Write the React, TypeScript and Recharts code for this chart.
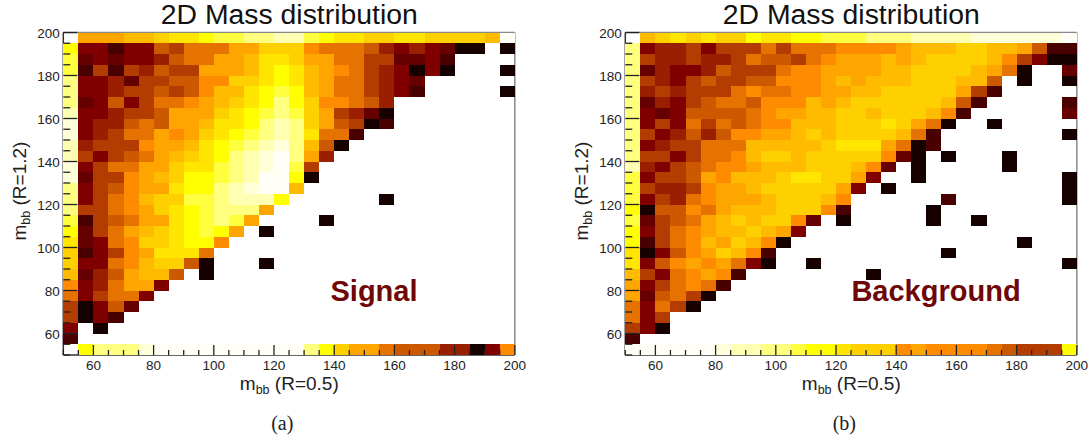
import { ScatterChart, Scatter, XAxis, YAxis, ReferenceLine } from 'recharts';

// ROOT dark body radiator palette, index = colour level (0 = empty bin)
const palette = [
  '#ffffff', '#170000', '#480000', '#660000', '#800000', '#9a1f00', '#b33c00', '#cc5800', '#e67300', '#ff8c00',
  '#ffa500', '#ffbb00', '#ffd000', '#ffe500', '#ffff00', '#ffff40', '#ffff80', '#ffffb3', '#ffffd9', '#fffff8',
];

const xTicks = [50, 55, 60, 65, 70, 75, 80, 85, 90, 95, 100, 105, 110, 115, 120, 125, 130, 135, 140, 145, 150, 155, 160, 165, 170, 175, 180, 185, 190, 195, 200];
const yTicks = xTicks;

// one row per 5 GeV bin of m_bb (R=1.2), first row is 50-55, missing trailing bins are empty
const signalRows: number[][] = [
  [0, 14, 16, 16, 16, 18, 19, 19, 19, 19, 19, 19, 19, 19, 19, 19, 16, 14, 12, 10, 10, 8, 7, 7, 7, 5, 5, 1, 4, 9],
  [2],
  [4, 0, 1],
  [6, 1, 4, 2],
  [6, 1, 4, 7, 3],
  [8, 4, 6, 8, 8, 4],
  [9, 4, 5, 8, 10, 10, 4],
  [11, 3, 5, 7, 10, 11, 11, 7, 0, 1],
  [12, 4, 4, 8, 9, 11, 12, 12, 7, 1, 0, 0, 0, 1],
  [12, 2, 4, 6, 9, 10, 13, 13, 13, 8],
  [13, 3, 4, 8, 9, 12, 12, 13, 14, 14, 9],
  [14, 3, 6, 8, 10, 11, 12, 13, 14, 15, 14, 10, 0, 1],
  [15, 2, 6, 7, 8, 10, 10, 13, 14, 15, 16, 15, 10, 0, 0, 0, 0, 1],
  [16, 6, 6, 8, 9, 10, 12, 13, 14, 15, 16, 16, 16, 10],
  [16, 4, 6, 8, 9, 11, 12, 12, 15, 15, 16, 17, 17, 17, 14, 0, 0, 0, 0, 0, 0, 1],
  [16, 4, 6, 7, 9, 10, 10, 13, 14, 14, 16, 17, 18, 19, 19, 11],
  [18, 3, 6, 6, 9, 10, 11, 12, 14, 14, 15, 16, 17, 19, 19, 14, 1],
  [18, 4, 6, 8, 8, 10, 10, 12, 13, 13, 15, 16, 17, 18, 19, 15, 6],
  [17, 6, 4, 6, 7, 8, 10, 11, 12, 13, 14, 16, 17, 18, 19, 16, 10, 5],
  [17, 5, 6, 6, 6, 9, 10, 10, 11, 13, 14, 15, 16, 17, 18, 16, 11, 7, 1],
  [18, 4, 5, 6, 8, 8, 10, 9, 10, 12, 13, 14, 15, 16, 17, 16, 13, 8, 8, 2],
  [18, 4, 5, 5, 7, 8, 7, 10, 10, 11, 13, 13, 14, 16, 17, 16, 12, 10, 7, 6, 1, 2],
  [17, 4, 4, 5, 6, 6, 7, 10, 10, 10, 12, 13, 14, 15, 16, 15, 12, 10, 6, 5, 3, 1],
  [16, 3, 4, 7, 4, 6, 8, 8, 9, 10, 11, 12, 13, 14, 16, 14, 12, 9, 9, 8, 7, 5],
  [16, 4, 4, 5, 6, 6, 7, 6, 7, 9, 11, 11, 13, 14, 15, 14, 11, 10, 8, 8, 6, 5, 4, 2, 0, 0, 0, 0, 0, 1],
  [16, 4, 4, 5, 3, 6, 6, 7, 7, 9, 9, 12, 12, 13, 14, 13, 11, 10, 8, 8, 6, 5, 4, 3],
  [15, 2, 6, 2, 6, 5, 7, 6, 6, 10, 10, 10, 11, 13, 14, 13, 11, 10, 9, 8, 6, 5, 4, 1, 4, 1, 0, 0, 0, 1],
  [15, 3, 4, 3, 4, 4, 5, 7, 8, 8, 10, 10, 11, 13, 13, 12, 10, 10, 8, 8, 6, 6, 3, 3, 4, 2],
  [14, 4, 4, 2, 4, 4, 7, 6, 8, 8, 8, 10, 10, 12, 12, 12, 9, 8, 8, 8, 7, 5, 4, 5, 4, 3, 1, 1, 0, 1],
  [0, 10, 10, 10, 11, 11, 12, 13, 13, 14, 15, 15, 16, 16, 17, 17, 15, 14, 13, 13, 12, 12, 13, 13, 12, 12, 12, 12, 11, 19],
];

const backgroundRows: number[][] = [
  [19, 19, 19, 19, 19, 19, 18, 17, 17, 16, 16, 15, 14, 14, 13, 12, 12, 12, 9, 10, 9, 9, 9, 9, 8, 7, 6, 6, 6, 14],
  [2],
  [6, 4, 1],
  [8, 4, 6],
  [8, 4, 8, 6, 1],
  [10, 3, 7, 8, 6, 1],
  [10, 4, 6, 8, 9, 8, 2],
  [11, 6, 4, 8, 9, 10, 9, 2, 0, 0, 0, 0, 0, 0, 0, 0, 1],
  [13, 4, 7, 9, 10, 9, 10, 8, 4, 1, 0, 0, 1, 0, 0, 0, 0, 0, 0, 0, 0, 0, 0, 0, 0, 0, 0, 0, 0, 1],
  [13, 1, 4, 7, 9, 10, 12, 11, 9, 2, 0, 0, 0, 0, 0, 0, 0, 0, 0, 0, 0, 1],
  [14, 2, 6, 8, 9, 11, 10, 12, 11, 9, 1, 0, 0, 0, 0, 0, 0, 0, 0, 0, 0, 0, 0, 0, 0, 0, 1],
  [14, 4, 6, 8, 9, 10, 11, 11, 12, 11, 10, 4],
  [15, 3, 6, 7, 8, 10, 11, 12, 11, 12, 12, 9, 3, 0, 1, 0, 0, 0, 0, 0, 1, 0, 0, 1],
  [14, 1, 7, 7, 9, 8, 10, 11, 11, 11, 12, 12, 12, 9, 2, 0, 0, 0, 0, 0, 1],
  [15, 4, 6, 5, 8, 9, 10, 10, 10, 11, 12, 12, 12, 11, 9, 0, 0, 0, 0, 0, 0, 2, 0, 0, 0, 0, 0, 0, 0, 1],
  [15, 6, 5, 5, 6, 9, 10, 10, 11, 12, 12, 12, 12, 12, 10, 4, 0, 1, 0, 0, 0, 0, 0, 0, 0, 0, 0, 0, 0, 1],
  [15, 4, 6, 6, 7, 10, 9, 11, 11, 11, 12, 13, 13, 12, 12, 10, 4, 0, 0, 1, 0, 0, 0, 0, 0, 0, 0, 0, 0, 1],
  [17, 5, 4, 6, 7, 8, 9, 9, 10, 11, 11, 11, 12, 12, 12, 11, 9, 3, 0, 1, 0, 0, 0, 0, 0, 1],
  [16, 6, 6, 4, 6, 8, 8, 9, 11, 12, 12, 11, 12, 12, 12, 12, 12, 9, 3, 1, 0, 1, 0, 0, 0, 1],
  [16, 4, 5, 6, 6, 8, 8, 8, 11, 11, 11, 11, 11, 12, 13, 13, 13, 10, 8, 1, 2],
  [16, 6, 4, 5, 7, 5, 7, 9, 9, 10, 10, 11, 12, 11, 12, 12, 12, 12, 11, 8, 2, 0, 0, 0, 0, 0, 0, 0, 0, 1],
  [16, 4, 6, 4, 8, 6, 8, 7, 8, 9, 9, 11, 11, 11, 12, 12, 12, 13, 12, 10, 8, 1, 0, 0, 1],
  [16, 4, 3, 4, 7, 7, 7, 7, 8, 9, 10, 10, 11, 11, 12, 12, 11, 12, 12, 12, 11, 9, 2, 0, 0, 0, 0, 0, 0, 3],
  [16, 3, 5, 4, 6, 7, 8, 8, 7, 9, 9, 9, 11, 10, 11, 12, 12, 12, 12, 12, 12, 11, 7, 2, 0, 0, 0, 0, 0, 2],
  [16, 5, 6, 5, 6, 6, 6, 8, 9, 8, 8, 9, 9, 10, 10, 11, 11, 12, 12, 12, 12, 12, 10, 6, 2],
  [16, 6, 5, 4, 6, 7, 6, 6, 7, 7, 9, 9, 9, 10, 11, 10, 11, 11, 11, 12, 12, 12, 11, 11, 7, 0, 1, 0, 0, 1],
  [16, 3, 5, 4, 4, 5, 7, 6, 6, 6, 8, 9, 9, 10, 10, 10, 10, 11, 11, 12, 12, 12, 12, 11, 10, 8, 1, 0, 0, 3],
  [16, 6, 5, 5, 6, 5, 5, 6, 8, 7, 7, 6, 8, 9, 10, 10, 10, 11, 10, 11, 12, 12, 12, 12, 11, 9, 6, 4, 1, 1],
  [16, 4, 5, 5, 6, 4, 6, 6, 6, 8, 6, 8, 8, 8, 9, 9, 9, 9, 10, 11, 11, 11, 12, 12, 11, 11, 10, 7, 2, 2],
  [0, 11, 12, 13, 12, 13, 12, 12, 14, 13, 13, 14, 14, 15, 15, 15, 16, 16, 16, 17, 17, 17, 17, 18, 18, 18, 18, 18, 18, 19],
];

const CHART_W = 530;
const CHART_H = 444;
const PLOT_LEFT = 63.3;
const PLOT_TOP = 32.5;
const PLOT_W = 451.5;
const PLOT_H = 322.5;
const CELL_W = PLOT_W / 30;
const CELL_H = PLOT_H / 30;
const INK = '#222';

const xTickMarks = xTicks.map((v) => ({ x: v, y: 50 }));
const yTickMarks = yTicks.map((v) => ({ x: 50, y: v }));

function toCells(rows: number[][]) {
  const cells: { x: number; y: number; level: number }[] = [];
  rows.forEach((row, r) =>
    row.forEach((level, c) => {
      if (level > 0) cells.push({ x: 52.5 + c * 5, y: 52.5 + r * 5, level });
    }),
  );
  return cells;
}

function BinRect(props: any) {
  const { cx, cy, payload } = props;
  return (
    <rect
      x={cx - CELL_W / 2}
      y={cy - CELL_H / 2}
      width={CELL_W}
      height={CELL_H}
      fill={palette[payload.level]}
      shapeRendering="crispEdges"
    />
  );
}

// tick marks sit inside the frame, on top of the bins, so they are series drawn after the bins
function XTickMark({ cx, cy, payload }: any) {
  const major = payload.x % 20 === 0;
  return <line x1={cx} x2={cx} y1={cy} y2={cy - (major ? 10 : 5)} stroke="#222" strokeWidth={1.3} />;
}

function YTickMark({ cx, cy, payload }: any) {
  const major = payload.y % 20 === 0;
  return <line x1={cx} x2={cx + (major ? 14 : 7)} y1={cy} y2={cy} stroke="#222" strokeWidth={1.3} />;
}

function XTick({ x, y, payload }: any) {
  if (payload.value % 20 !== 0) return <g />;
  return (
    <text x={x} y={y + 14.5} textAnchor="middle" fontSize={13.5} fill={INK} fontFamily="Liberation Sans">
      {payload.value}
    </text>
  );
}

function YTick({ x, y, payload }: any) {
  if (payload.value % 20 !== 0) return <g />;
  return (
    <text x={x - 3.5} y={y + 5} textAnchor="end" fontSize={13.5} fill={INK} fontFamily="Liberation Sans">
      {payload.value}
    </text>
  );
}

function MassLabel({ x, y, radius, rotate }: { x: number; y: number; radius: string; rotate?: boolean }) {
  return (
    <text
      x={x}
      y={y}
      textAnchor="middle"
      fontSize={19}
      fill={INK}
      fontFamily="Liberation Sans"
      transform={rotate ? `rotate(-90 ${x} ${y})` : undefined}
    >
      m
      <tspan fontSize={12.5} dy={4}>bb</tspan>
      <tspan dy={-4}> (R={radius})</tspan>
    </text>
  );
}

function MassPanel({ rows, name, nameX, caption, left }: { rows: number[][]; name: string; nameX: number; caption: string; left: number }) {
  return (
    <div style={{ position: 'absolute', left, top: 0 }}>
      <ScatterChart
        width={CHART_W}
        height={CHART_H}
        margin={{ top: PLOT_TOP, left: 0, right: CHART_W - PLOT_LEFT - PLOT_W, bottom: 0 }}
      >
        <XAxis
          type="number"
          dataKey="x"
          domain={[50, 200]}
          ticks={xTicks}
          interval={0}
          tickLine={false}
          tickSize={0}
          tickMargin={0}
          tick={XTick}
          axisLine={{ stroke: '#333', strokeWidth: 1.5 }}
          height={CHART_H - PLOT_TOP - PLOT_H}
        />
        <YAxis
          type="number"
          dataKey="y"
          domain={[50, 200]}
          ticks={yTicks}
          interval={0}
          tickLine={false}
          tickSize={0}
          tickMargin={0}
          tick={YTick}
          axisLine={{ stroke: '#333', strokeWidth: 1.5 }}
          width={PLOT_LEFT}
        />
        <Scatter data={toCells(rows)} dataKey="y" shape={BinRect} isAnimationActive={false} />
        <Scatter data={xTickMarks} dataKey="y" shape={XTickMark} isAnimationActive={false} />
        <Scatter data={yTickMarks} dataKey="y" shape={YTickMark} isAnimationActive={false} />
        <ReferenceLine x={200} stroke="#888" strokeWidth={1.5} />
        <ReferenceLine y={200} stroke="#888" strokeWidth={1.5} />
        <text x={PLOT_LEFT + 226} y={23.5} textAnchor="middle" fontSize={27} textLength={257} lengthAdjust="spacingAndGlyphs" fill="#111" fontFamily="Liberation Sans">
          2D Mass distribution
        </text>
        <text x={nameX} y={301} textAnchor="middle" fontSize={29} fontWeight="bold" fill="#6f0707" fontFamily="Liberation Sans">
          {name}
        </text>
        <MassLabel x={PLOT_LEFT + 226} y={390} radius="0.5" />
        <MassLabel x={26} y={191} radius="1.2" rotate />
        <text x={PLOT_LEFT + 219} y={430} textAnchor="middle" fontSize={20} fill={INK} fontFamily="Liberation Serif">
          {caption}
        </text>
      </ScatterChart>
    </div>
  );
}

export default function App() {
  return (
    <div style={{ position: 'absolute', left: 0, top: 0, width: 1089, height: 444, background: '#fff' }}>
      <MassPanel rows={signalRows} name="Signal" nameX={374} caption="(a)" left={0} />
      <MassPanel rows={backgroundRows} name="Background" nameX={374} caption="(b)" left={561.7} />
    </div>
  );
}
